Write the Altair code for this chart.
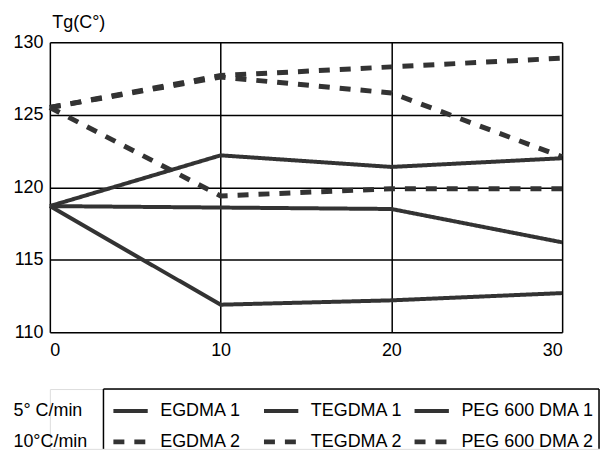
import altair as alt
import pandas as pd

# ---------------- data ----------------
x_vals = [0, 10, 20, 30]
series_names = ["EGDMA 1", "TEGDMA 1", "PEG 600 DMA 1", "EGDMA 2", "TEGDMA 2", "PEG 600 DMA 2"]
series_rates = ["5° C/min", "5° C/min", "5° C/min", "10°C/min", "10°C/min", "10°C/min"]
egdma_1 = [118.7, 122.2, 121.4, 122.0]
tegdma_1 = [118.7, 118.6, 118.5, 116.2]
peg600_1 = [118.7, 111.9, 112.2, 112.7]
egdma_2 = [125.5, 127.7, 128.3, 128.9]
tegdma_2 = [125.5, 127.6, 126.5, 122.1]
peg600_2 = [125.5, 119.4, 119.9, 119.9]
series_values = [egdma_1, tegdma_1, peg600_1, egdma_2, tegdma_2, peg600_2]
x_ticks = [0, 10, 20, 30]
y_ticks = [110, 115, 120, 125, 130]
rate_labels = ["5° C/min", "10°C/min"]
legend_col = [0, 1, 2, 0, 1, 2]
legend_row = [0, 0, 0, 1, 1, 1]

FONT = "Liberation Sans"
INK = "#333333"

rows = []
for name, rate, vals in zip(series_names, series_rates, series_values):
    for xv, yv in zip(x_vals, vals):
        rows.append({"series": name, "rate": rate, "x": xv, "y": yv})
df = pd.DataFrame(rows)

dash_scale = alt.Scale(domain=rate_labels, range=[[1, 0], [11, 10]])
width_scale = alt.Scale(domain=rate_labels, range=[4, 5])

main = alt.Chart(df).mark_line(color=INK, strokeCap="butt").encode(
    x=alt.X("x:Q", scale=alt.Scale(domain=[0, 30], nice=False),
            axis=alt.Axis(values=x_ticks, title=None, ticks=False, domain=False,
                          grid=True, gridColor="black", gridWidth=1.5, gridOpacity=1,
                          labelFontSize=18, labelFont=FONT, labelColor="black",
                          labelPadding=9, labelFlush=True, format="d")),
    y=alt.Y("y:Q", scale=alt.Scale(domain=[110, 130], nice=False, zero=False),
            axis=alt.Axis(values=y_ticks, ticks=False, domain=False,
                          grid=True, gridColor="black", gridWidth=1.5, gridOpacity=1,
                          labelFontSize=18, labelFont=FONT, labelColor="black",
                          labelPadding=7, format="d",
                          title="Tg(C°)", titleAngle=0, titleX=2, titleY=-14.5,
                          titleAlign="left", titleBaseline="alphabetic",
                          titleFontSize=18, titleFont=FONT, titleFontWeight="normal",
                          titleColor="black")),
    detail="series:N",
    strokeDash=alt.StrokeDash("rate:N", scale=dash_scale, legend=None),
    strokeWidth=alt.StrokeWidth("rate:N", scale=width_scale, legend=None),
).properties(width=514, height=291)

# ---------------- legend block ----------------
leg_df = pd.DataFrame({"name": series_names, "rate": series_rates,
                       "col": legend_col, "row": legend_row})
lx = alt.Scale(domain=[-0.422, 3.225], nice=False, zero=False)
ly = alt.Scale(domain=[1.226, -0.71], nice=False, zero=False)
leg_dash = alt.Scale(domain=rate_labels, range=[[1, 0], [12, 10]])

leg_base = alt.Chart(leg_df).transform_calculate(
    x0="datum.col", x1="datum.col + 0.228", xt="datum.col + 0.311")

segs = leg_base.mark_rule(color=INK, strokeCap="butt").encode(
    x=alt.X("x0:Q", scale=lx, axis=None),
    x2="x1:Q",
    y=alt.Y("row:Q", scale=ly, axis=None),
    strokeDash=alt.StrokeDash("rate:N", scale=leg_dash, legend=None),
    strokeWidth=alt.StrokeWidth("rate:N", scale=width_scale, legend=None),
)
texts = leg_base.mark_text(align="left", baseline="middle", fontSize=18,
                           font=FONT, color="black").encode(
    x=alt.X("xt:Q", scale=lx, axis=None),
    y=alt.Y("row:Q", scale=ly, axis=None),
    text="name:N",
)
row_df = pd.DataFrame({"label": rate_labels, "row": [0, 1]})
row_text = alt.Chart(row_df).transform_calculate(xr="-0.664").mark_text(
    align="left", baseline="middle", fontSize=18, font=FONT, color="black").encode(
    x=alt.X("xr:Q", scale=lx, axis=None),
    y=alt.Y("row:Q", scale=ly, axis=None),
    text="label:N",
)
# open-bottomed frame (the reference frame runs off the bottom edge)
frame_df = pd.DataFrame({"side": ["top", "left", "right"],
                         "fx0": [-0.066, -0.066, 3.225],
                         "fx1": [3.225, -0.066, 3.225],
                         "fy0": [-0.71, -0.71, -0.71],
                         "fy1": [-0.71, 1.226, 1.226]})
frame = alt.Chart(frame_df).mark_rule(color="black", strokeWidth=1.5).encode(
    x=alt.X("fx0:Q", scale=lx, axis=None),
    x2="fx1:Q",
    y=alt.Y("fy0:Q", scale=ly, axis=None),
    y2="fy1:Q",
)
legend = alt.layer(frame, segs, texts, row_text).properties(width=551, height=60)

chart = alt.vconcat(main, legend, spacing=27).properties(
    padding={"left": 4, "top": 4.6, "right": 0, "bottom": -2}
).configure_view(stroke=None).configure(background="white")

chart.save("out.html", embed_options={"renderer": "svg", "actions": False})
